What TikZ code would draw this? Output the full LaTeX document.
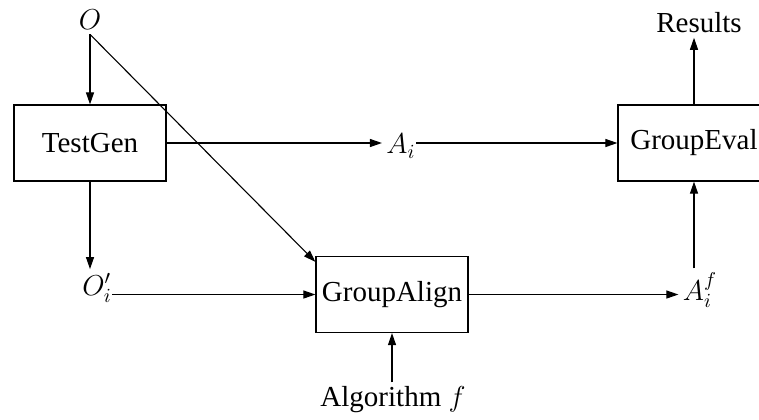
\documentclass[tikz,border=0pt]{standalone}
\usepackage{fontspec}
\setmainfont{Liberation Serif}
\usetikzlibrary{arrows.meta,positioning}
\begin{document}
\begin{tikzpicture}[x=0.5pt,y=-0.5pt,
  font=\fontsize{14.5}{17}\selectfont,
  block/.style={draw, line width=0.6pt, minimum width=76pt, minimum height=38pt, inner sep=0pt},
  lbl/.style={inner sep=2pt},
  >={Triangle[length=6pt,width=4pt]}, line width=0.55pt]
\useasboundingbox (0,0) rectangle (759,419);
\node[block] (testgen) at (90,143) {TestGen};
\node[block] (groupalign) at (392,294.5) {GroupAlign};
\node[block] (groupeval) at (694,143) {GroupEval};
\node[lbl] (o) at (90,20) {$O$};
\node[lbl] (results) at (699,23) {Results};
\node[lbl] (ai) at (401,146) {$A_i$};
\node[lbl] (oi) at (97,288) {$O_i'$};
\node[lbl] (aif) at (700,290) {$A_i^f$};
\node[lbl] (algo) at (393,400) {Algorithm $f$};
\draw[->] (o.south) -- (testgen.north);
\draw[->] (o.south) -- ([yshift=-3pt]groupalign.north west);
\draw[->] (testgen.east) -- (ai.west |- testgen.east);
\draw[->, shorten <=-2pt] (ai.east |- groupeval.west) -- (groupeval.west);
\draw[->] (testgen.south) -- (testgen.south |- oi.north);
\draw[->, shorten <=-2pt] (oi.east |- groupalign.west) -- (groupalign.west);
\draw[->] (groupalign.east) -- (aif.west |- groupalign.east);
\draw[->] (groupeval.south |- aif.north) -- (groupeval.south);
\draw[->] (groupeval.north) -- (groupeval.north |- results.south);
\draw[->] (algo.north -| groupalign.south) -- (groupalign.south);
\end{tikzpicture}
\end{document}
